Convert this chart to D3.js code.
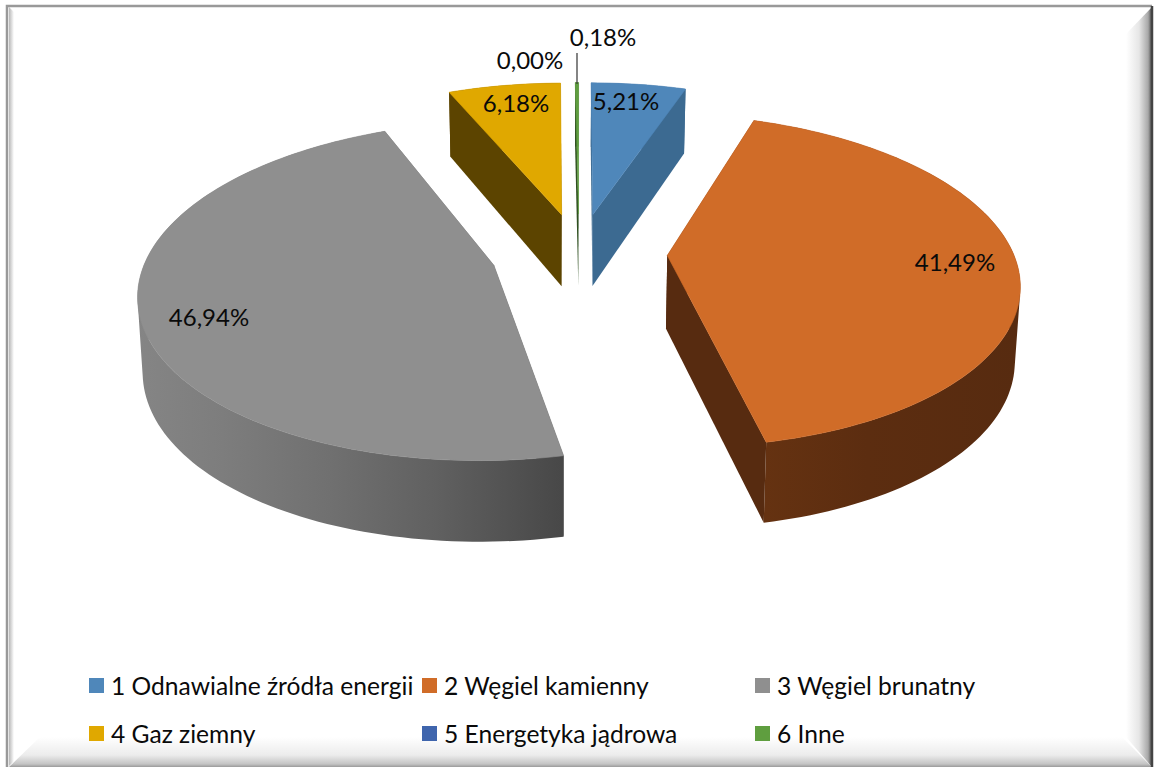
<!DOCTYPE html>
<html>
<head>
<meta charset="utf-8">
<script src="https://cdnjs.cloudflare.com/ajax/libs/d3/7.8.5/d3.min.js"></script>
<style>
  html, body { margin: 0; padding: 0; background: #fff; }
  svg { display: block; }
  text { font-family: Lato, "Open Sans", sans-serif; fill: #0a0a0a; }
</style>
</head>
<body>
<div id="chart"></div>
<script>
const categories = ['1 Odnawialne źródła energii', '2 Węgiel kamienny', '3 Węgiel brunatny', '4 Gaz ziemny', '5 Energetyka jądrowa', '6 Inne'];
const shares = [5.21, 41.49, 46.94, 6.18, 0.00, 0.18];
const shareLabels = ['5,21%', '41,49%', '46,94%', '6,18%', '0,00%', '0,18%'];

const topColors = ['#4f87ba', '#d06c28', '#8f8f8f', '#e0a800', '#3f65ad', '#5f9e3f'];
const wallColors = ['#3c6a91', '#572b10', '#8a8a8a', '#5c4400', '#2c4a80', '#2f5020'];

const width = 1155;
const height = 767;

// Tilted pie: disc coordinates (u right, v back) go through a perspective divide
const center = { x: 579, y: 253 };
const explode = { u: 0.255, v: 0.25 };
const perspective = 0.15;

const scaleU = d3.scaleLinear().domain([-1, 1]).range([-346, 346]);
const scaleV = d3.scaleLinear().domain([-1, 1]).range([162, -162]);
const wallDepth = d3.scaleLinear().domain([-1.05, 1.25]).range([81, 64]);

function project(u, v) {
    const w = 1 + perspective * v;
    return [center.x + scaleU(u) / w, center.y + scaleV(v) / w];
}

// Bottom of the wall leans slightly towards the middle
function drop(p, v) {
    return [p[0] + (560 - p[0]) * 0.012, p[1] + wallDepth(v)];
}

const svg = d3.select('#chart').append('svg')
    .attr('width', width)
    .attr('height', height);

const defs = svg.append('defs');

function addGradient(id, x1, y1, x2, y2, stops) {
    const g = defs.append('linearGradient')
        .attr('id', id)
        .attr('gradientUnits', 'userSpaceOnUse')
        .attr('x1', x1).attr('y1', y1)
        .attr('x2', x2).attr('y2', y2);
    stops.forEach(s => g.append('stop').attr('offset', s[0]).attr('stop-color', s[1]));
}

addGradient('grayWall', 137, 0, 566, 0, [[0, '#858585'], [0.2, '#7d7d7d'], [0.45, '#707070'], [0.7, '#606060'], [1, '#474747']]);
addGradient('orangeWall', 765, 0, 1020, 0, [[0, '#653211'], [0.4, '#5c2d10'], [1, '#572b10']]);
addGradient('bevelRight', 1126, 0, 1152, 0, [[0, '#ffffff'], [0.5, '#e6e6e6'], [0.85, '#a8a8a8'], [1, '#4a4a4a']]);
addGradient('bevelBottom', 0, 737, 0, 767, [[0, '#ffffff'], [0.6, '#ececec'], [0.9, '#c4c4c4'], [1, '#9a9a9a']]);
addGradient('bevelLeft', 9, 0, 14, 0, [[0, '#b8b8b8'], [1, '#ffffff']]);

// Frame
const frame = svg.append('g');
frame.append('polygon').attr('points', '9,7 14,12 14,737 40,737 9,766').attr('fill', 'url(#bevelLeft)');
frame.append('polygon').attr('points', '9,767 40,737 1122,737 1152,767').attr('fill', 'url(#bevelBottom)');
frame.append('polygon').attr('points', '1152,7 1126,34 1126,737 1152,767').attr('fill', 'url(#bevelRight)');
frame.append('path').attr('d', 'M7,767V6H1152').attr('fill', 'none').attr('stroke', '#999').attr('stroke-width', 2.5);
frame.append('line').attr('x1', 1152).attr('y1', 6).attr('x2', 1152).attr('y2', 767).attr('stroke', '#444').attr('stroke-width', 2.5);

// Slices
const pie = d3.pie().sort(null).value(d => d);
const slices = pie(shares);
const sliceLayer = svg.append('g');
const line = d3.line();

slices.forEach((s, i) => {
    if (s.value === 0) return;
    const mid = (s.startAngle + s.endAngle) / 2;
    const eu = explode.u * Math.sin(mid);
    const ev = explode.v * Math.cos(mid);
    const apex = project(eu, ev);
    const steps = Math.max(2, Math.ceil((s.endAngle - s.startAngle) * 40));
    const rim = d3.range(steps + 1).map(k => {
        const a = s.startAngle + (s.endAngle - s.startAngle) * k / steps;
        const u = eu + Math.sin(a);
        const v = ev + Math.cos(a);
        return { pt: project(u, v), v: v };
    });
    const g = sliceLayer.append('g');
    const topPath = line([apex].concat(rim.map(r => r.pt))) + 'Z';
    const sideFill = i === 2 ? 'url(#grayWall)' : wallColors[i];
    const rimFill = i === 1 ? 'url(#orangeWall)' : sideFill;

    // outer wall: one quad per rim step, all wound the same way so they union
    const wallPath = d3.pairs(rim).map(([a, b]) => {
        const quad = [a.pt, b.pt, drop(b.pt, b.v), drop(a.pt, a.v)];
        if (d3.polygonArea(quad) < 0) quad.reverse();
        return line(quad) + 'Z';
    }).join('');
    g.append('path')
        .attr('d', wallPath)
        .attr('fill', rimFill);

    // radial side walls
    [rim[0], rim[rim.length - 1]].forEach(r => {
        g.append('path')
            .attr('d', line([apex, r.pt, drop(r.pt, r.v), drop(apex, ev)]) + 'Z')
            .attr('fill', sideFill);
    });

    // top face, with a hairline in its own colour to close the seam
    g.append('path')
        .attr('d', topPath)
        .attr('fill', topColors[i])
        .attr('stroke', topColors[i])
        .attr('stroke-width', 0.6);
});

// Data labels
const labelSpots = [[626, 102], [955, 263], [209, 318], [516, 104], [530, 61], [603, 38]];
shareLabels.forEach((t, i) => {
    svg.append('text')
        .attr('x', labelSpots[i][0])
        .attr('y', labelSpots[i][1])
        .attr('dy', '0.35em')
        .attr('text-anchor', 'middle')
        .attr('font-size', 24)
        .text(t);
});

// Leader line for the thin slice
svg.append('line')
    .attr('x1', 577).attr('y1', 53)
    .attr('x2', 577).attr('y2', 84)
    .attr('stroke', '#333')
    .attr('stroke-width', 1.2);

// Legend
const legendX = [89, 422, 755];
const legendY = [686, 734];
categories.forEach((c, i) => {
    const col = i % 3;
    const row = Math.floor(i / 3);
    svg.append('rect')
        .attr('x', legendX[col])
        .attr('y', legendY[row] - 8)
        .attr('width', 15)
        .attr('height', 15)
        .attr('fill', topColors[i]);
    svg.append('text')
        .attr('x', legendX[col] + 22)
        .attr('y', legendY[row])
        .attr('dy', '0.35em')
        .attr('font-size', 24.6)
        .text(c);
});
</script>
</body>
</html>
